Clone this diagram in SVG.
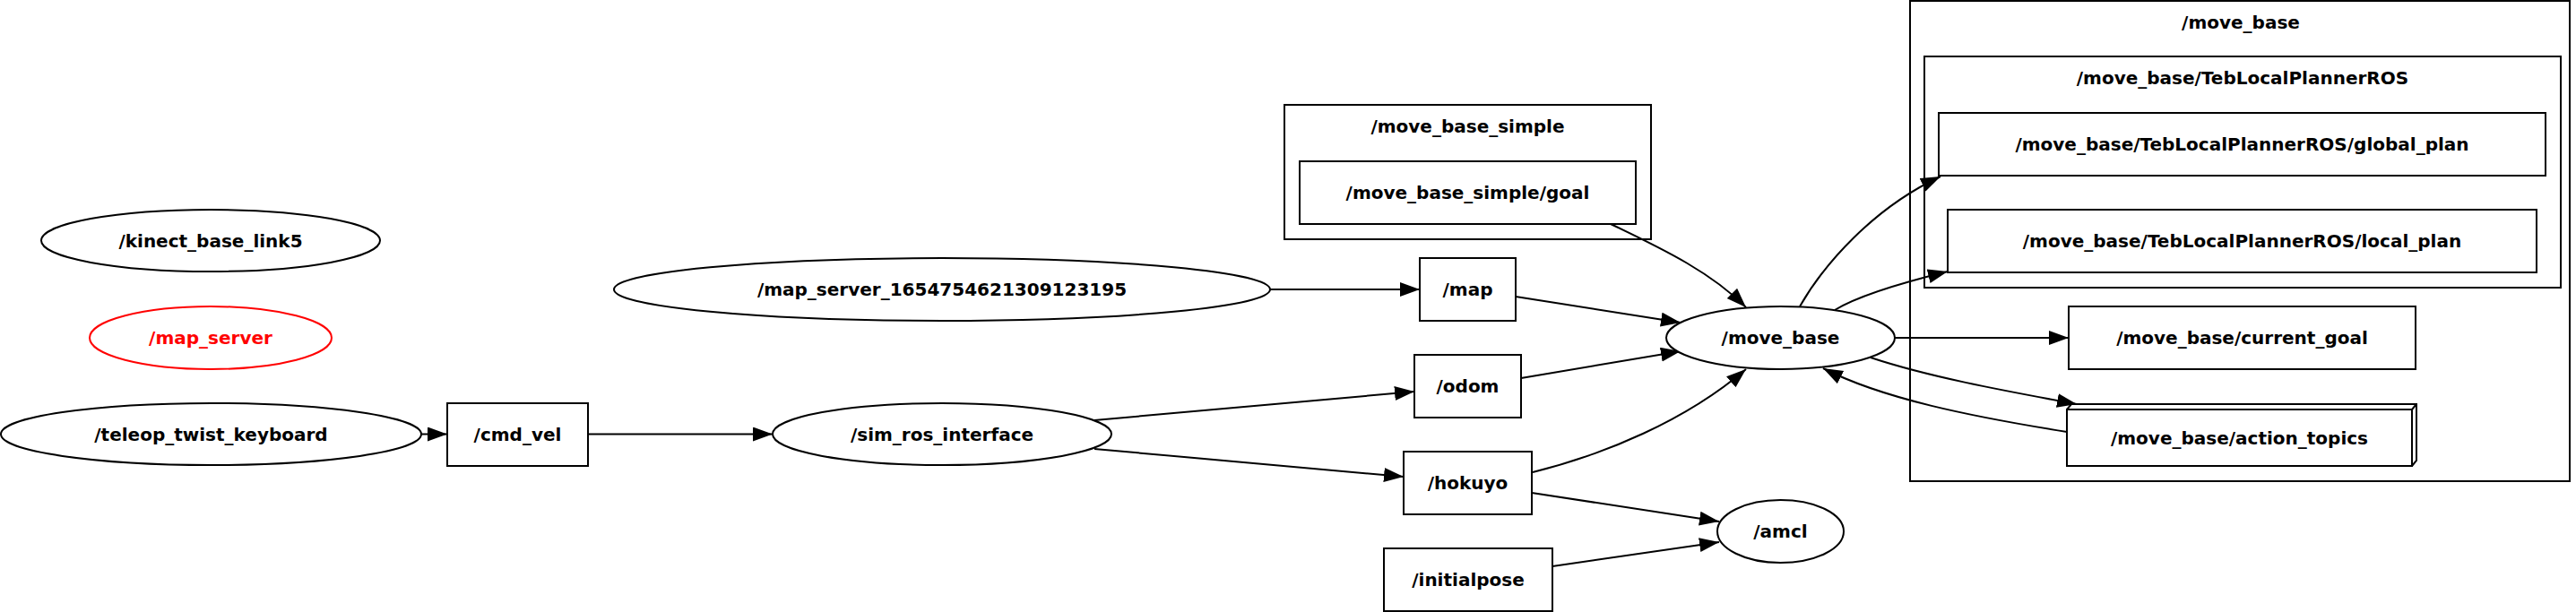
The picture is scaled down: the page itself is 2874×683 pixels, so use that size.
<svg xmlns="http://www.w3.org/2000/svg" width="2874" height="683" viewBox="0 0 2874 683">
<style>
text{font-family:"DejaVu Sans","Liberation Sans",sans-serif;font-weight:bold;font-size:20px;text-anchor:middle;fill:#000}
.n{fill:#fff;stroke:#000;stroke-width:2}
.c{fill:none;stroke:#000;stroke-width:2}
.e{fill:none;stroke:#000;stroke-width:2;marker-end:url(#ah)}
.red{stroke:#f00}
text.red{fill:#f00;stroke:none}
</style>
<defs>
<marker id="ah" markerUnits="userSpaceOnUse" markerWidth="24" markerHeight="18" refX="22" refY="8" orient="auto">
<path d="M0,0 L22,8 L0,16 z" fill="#000"/>
</marker>
</defs>
<rect width="2874" height="683" fill="#fff"/>
<g id="clusters">
<g id="cluster_move_base">
<rect class="c" x="2131" y="1" width="736" height="536"/>
<text x="2500" y="32">/move_base</text>
</g>
<g id="cluster_teb">
<rect class="c" x="2147" y="63" width="710" height="258"/>
<text x="2502" y="94">/move_base/TebLocalPlannerROS</text>
</g>
<g id="cluster_move_base_simple">
<rect class="c" x="1433" y="117" width="409" height="150"/>
<text x="1637.5" y="148">/move_base_simple</text>
</g>
</g>
<g id="edges">
<path class="e" d="M470,484.5 L499,484.5"/>
<path class="e" d="M656,484.5 L862,484.5"/>
<path class="e" d="M1417,323 L1584,323"/>
<path class="e" d="M1221,469 L1578,437"/>
<path class="e" d="M1221,501 L1566,532"/>
<path class="e" d="M1797,250 C1860,280 1910,305 1948,343"/>
<path class="e" d="M1691,331 L1875,360"/>
<path class="e" d="M1697,422 L1875,392"/>
<path class="e" d="M1710,527 C1790,507 1880,470 1948,412"/>
<path class="e" d="M1709,550 L1918,582"/>
<path class="e" d="M1732,632 L1918,605"/>
<path class="e" d="M2008,342 C2035,295 2090,232 2165,197"/>
<path class="e" d="M2047,346 C2070,332 2120,316 2173,303"/>
<path class="e" d="M2114,377 L2308,377"/>
<path class="e" d="M2087,399 C2150,420 2230,435 2317,451"/>
<path class="e" d="M2306,482 C2200,465 2100,445 2034,411"/>
</g>
<g id="kinect_base_link5">
<ellipse class="n" cx="235" cy="268.5" rx="189" ry="34.5"/>
<text x="235" y="275.5">/kinect_base_link5</text>
</g>
<g id="map_server">
<ellipse class="n red" cx="235" cy="377" rx="135" ry="35"/>
<text class="red" x="235" y="384">/map_server</text>
</g>
<g id="teleop_twist_keyboard">
<ellipse class="n" cx="235.5" cy="484.5" rx="234.5" ry="34.5"/>
<text x="235.5" y="491.5">/teleop_twist_keyboard</text>
</g>
<g id="cmd_vel">
<rect class="n" x="499" y="450" width="157" height="70"/>
<text x="577.5" y="492">/cmd_vel</text>
</g>
<g id="map_server_1654754621309123195">
<ellipse class="n" cx="1051" cy="323" rx="366" ry="35"/>
<text x="1051" y="330">/map_server_1654754621309123195</text>
</g>
<g id="sim_ros_interface">
<ellipse class="n" cx="1051" cy="484.5" rx="189" ry="34.5"/>
<text x="1051" y="491.5">/sim_ros_interface</text>
</g>
<g id="move_base_simple_goal">
<rect class="n" x="1450" y="180" width="375" height="70"/>
<text x="1637.5" y="222">/move_base_simple/goal</text>
</g>
<g id="map">
<rect class="n" x="1584" y="288" width="107" height="70"/>
<text x="1637.5" y="330">/map</text>
</g>
<g id="odom">
<rect class="n" x="1578" y="396" width="119" height="70"/>
<text x="1637.5" y="438">/odom</text>
</g>
<g id="hokuyo">
<rect class="n" x="1566" y="504" width="143" height="70"/>
<text x="1637.5" y="546">/hokuyo</text>
</g>
<g id="initialpose">
<rect class="n" x="1544" y="612" width="188" height="70"/>
<text x="1638" y="654">/initialpose</text>
</g>
<g id="move_base">
<ellipse class="n" cx="1986.5" cy="377" rx="127.5" ry="35"/>
<text x="1986.5" y="384">/move_base</text>
</g>
<g id="amcl">
<ellipse class="n" cx="1986.5" cy="593" rx="70.5" ry="35"/>
<text x="1986.5" y="600">/amcl</text>
</g>
<g id="global_plan">
<rect class="n" x="2163" y="126" width="677" height="70"/>
<text x="2501.5" y="168">/move_base/TebLocalPlannerROS/global_plan</text>
</g>
<g id="local_plan">
<rect class="n" x="2173" y="234" width="657" height="70"/>
<text x="2501.5" y="276">/move_base/TebLocalPlannerROS/local_plan</text>
</g>
<g id="current_goal">
<rect class="n" x="2308" y="342" width="387" height="70"/>
<text x="2501.5" y="384">/move_base/current_goal</text>
</g>
<g id="action_topics">
<rect class="n" x="2306" y="457" width="385" height="63"/>
<path class="c" d="M2306,457 L2311,451 L2696,451 L2696,514 L2691,520 M2691,457 L2696,451"/>
<text x="2498.5" y="495.5">/move_base/action_topics</text>
</g>
</svg>
